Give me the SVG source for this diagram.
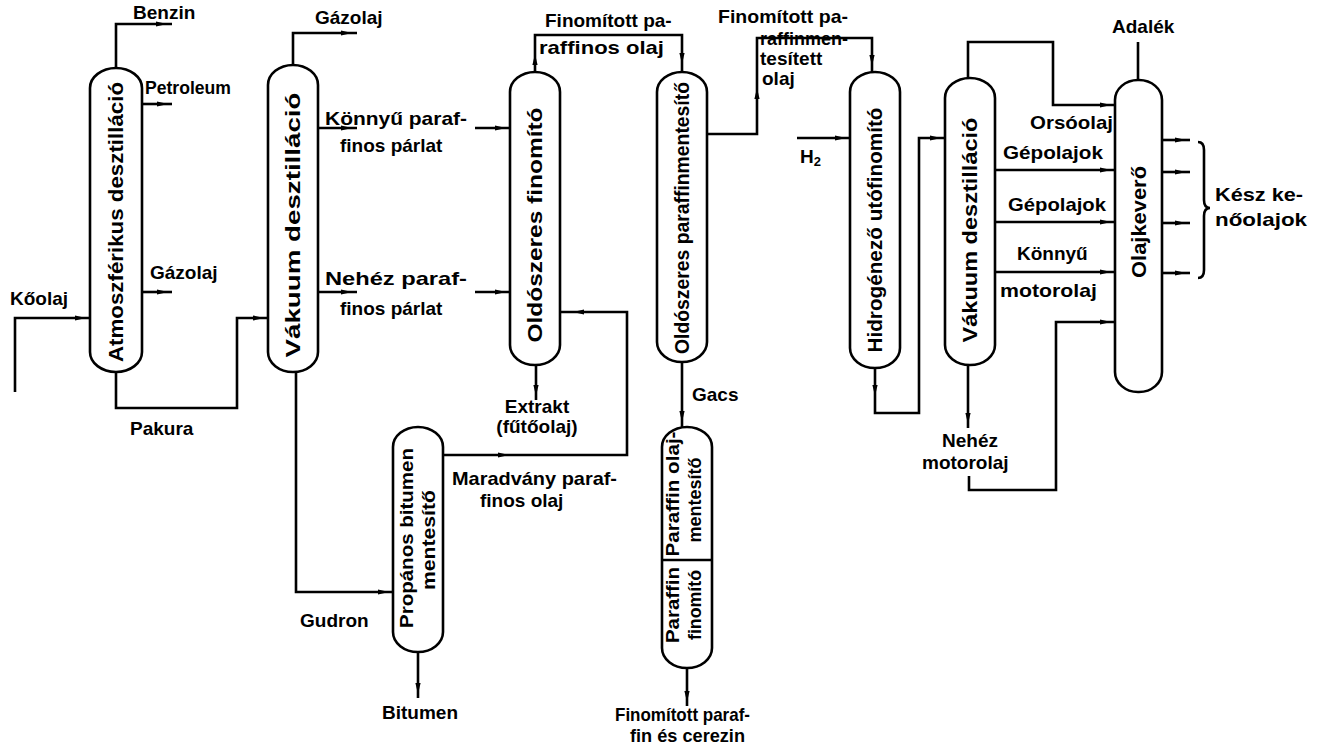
<svg xmlns="http://www.w3.org/2000/svg" xmlns:xlink="http://www.w3.org/1999/xlink" width="1317" height="748" viewBox="0 0 1317 748">
<style>
.col{fill:#fff;stroke:#000;stroke-width:2.6}
.ln{fill:none;stroke:#000;stroke-width:2.6;stroke-linejoin:miter}
text{font-family:"Liberation Sans",Arial,sans-serif;font-weight:bold;font-size:19px;fill:#000}
.v{font-size:20px}
.s{font-size:18px}
.m{text-anchor:middle}
</style>
<defs>
<path id="ah" d="M-7,-2.6 L4,0 L-7,2.6 Z" fill="#000"/>
</defs>
<rect width="1317" height="748" fill="#fff"/>
<g id="connectors">
<path class="ln" d="M15,392 V318 H90"/>
<path class="ln" d="M116,68 V24 H172"/>
<path class="ln" d="M142,104 H172"/>
<path class="ln" d="M142,292 H172"/>
<path class="ln" d="M116,372 V408 H237 V318 H268"/>
<path class="ln" d="M293,65 V33 H357"/>
<path class="ln" d="M318,128 H357"/>
<path class="ln" d="M475,128 H510"/>
<path class="ln" d="M318,292 H357"/>
<path class="ln" d="M475,292 H510"/>
<path class="ln" d="M296,372 V592 H393"/>
<path class="ln" d="M535,72 V35 H682 V72"/>
<path class="ln" d="M443,455 H627 V312 H560"/>
<path class="ln" d="M536,365 V400"/>
<path class="ln" d="M707,134 H757 V38 H872 V72"/>
<path class="ln" d="M682,362 V427"/>
<path class="ln" d="M418,652 V698"/>
<path class="ln" d="M687,668 V706"/>
<path class="ln" d="M797,138 H850"/>
<path class="ln" d="M875,368 V413 H919 V138 H945"/>
<path class="ln" d="M968,78 V42 H1053 V105 H1115"/>
<path class="ln" d="M995,170 H1115"/>
<path class="ln" d="M995,222 H1115"/>
<path class="ln" d="M995,272 H1115"/>
<path class="ln" d="M968,365 V428"/>
<path class="ln" d="M969,476 V490 H1056 V322 H1115"/>
<path class="ln" d="M1138,80 V42"/>
<path class="ln" d="M1162,140 H1190"/>
<path class="ln" d="M1162,172 H1190"/>
<path class="ln" d="M1162,223 H1190"/>
<path class="ln" d="M1162,273 H1190"/>
<path class="ln" d="M1198,142 Q1204,142 1204,150 V200 Q1204,208 1210,208 Q1204,208 1204,216 V270 Q1204,278 1198,278" stroke-width="2"/>
<use xlink:href="#ah" transform="translate(82,318)"/>
<use xlink:href="#ah" transform="translate(163,24)"/>
<use xlink:href="#ah" transform="translate(164,104)"/>
<use xlink:href="#ah" transform="translate(164,292)"/>
<use xlink:href="#ah" transform="translate(260,318)"/>
<use xlink:href="#ah" transform="translate(348,33)"/>
<use xlink:href="#ah" transform="translate(348,128)"/>
<use xlink:href="#ah" transform="translate(502,128)"/>
<use xlink:href="#ah" transform="translate(348,292)"/>
<use xlink:href="#ah" transform="translate(502,292)"/>
<use xlink:href="#ah" transform="translate(385,592)"/>
<use xlink:href="#ah" transform="translate(535,58) rotate(-90)"/>
<use xlink:href="#ah" transform="translate(682,60) rotate(90)"/>
<use xlink:href="#ah" transform="translate(505,455)"/>
<use xlink:href="#ah" transform="translate(577,312) rotate(180)"/>
<use xlink:href="#ah" transform="translate(536,392) rotate(90)"/>
<use xlink:href="#ah" transform="translate(757,92) rotate(-90)"/>
<use xlink:href="#ah" transform="translate(872,62) rotate(90)"/>
<use xlink:href="#ah" transform="translate(682,418) rotate(90)"/>
<use xlink:href="#ah" transform="translate(418,690) rotate(90)"/>
<use xlink:href="#ah" transform="translate(687,698) rotate(90)"/>
<use xlink:href="#ah" transform="translate(842,138)"/>
<use xlink:href="#ah" transform="translate(875,392) rotate(90)"/>
<use xlink:href="#ah" transform="translate(937,138)"/>
<use xlink:href="#ah" transform="translate(1107,105)"/>
<use xlink:href="#ah" transform="translate(1107,170)"/>
<use xlink:href="#ah" transform="translate(1107,222)"/>
<use xlink:href="#ah" transform="translate(1107,272)"/>
<use xlink:href="#ah" transform="translate(968,420) rotate(90)"/>
<use xlink:href="#ah" transform="translate(1107,322)"/>
<use xlink:href="#ah" transform="translate(1182,140)"/>
<use xlink:href="#ah" transform="translate(1182,172)"/>
<use xlink:href="#ah" transform="translate(1182,223)"/>
<use xlink:href="#ah" transform="translate(1182,273)"/>
</g>
<g id="atm">
<rect class="col" x="90" y="68" width="52" height="304" rx="26" ry="20"/>
<text class="v m" transform="translate(123,222) rotate(-90)" textLength="280" lengthAdjust="spacingAndGlyphs">Atmoszférikus desztilláció</text>
</g>
<g id="vak1">
<rect class="col" x="268" y="65" width="50" height="307" rx="25" ry="20"/>
<text class="v m" transform="translate(300,225) rotate(-90)" textLength="265" lengthAdjust="spacingAndGlyphs">Vákuum desztilláció</text>
</g>
<g id="oldfin">
<rect class="col" x="510" y="72" width="50" height="293" rx="25" ry="20"/>
<text class="v m" transform="translate(542,225) rotate(-90)" textLength="235" lengthAdjust="spacingAndGlyphs">Oldószeres finomító</text>
</g>
<g id="oldpar">
<rect class="col" x="657" y="72" width="50" height="290" rx="25" ry="20"/>
<text class="v m" transform="translate(689,218) rotate(-90)" textLength="272" lengthAdjust="spacingAndGlyphs">Oldószeres paraffinmentesítő</text>
</g>
<g id="propan">
<rect class="col" x="393" y="427" width="50" height="225" rx="25" ry="20"/>
<text class="s m" transform="translate(413,538) rotate(-90)" textLength="180" lengthAdjust="spacingAndGlyphs">Propános bitumen</text>
<text class="s m" transform="translate(435,540) rotate(-90)" textLength="100" lengthAdjust="spacingAndGlyphs">mentesítő</text>
</g>
<g id="parolaj">
<rect class="col" x="662" y="427" width="50" height="241" rx="25" ry="20"/>
<path class="ln" d="M662,560 H712"/>
<text class="s m" transform="translate(679,494) rotate(-90)" textLength="125" lengthAdjust="spacingAndGlyphs">Paraffin olaj-</text>
<text class="s m" transform="translate(701,500) rotate(-90)" textLength="85" lengthAdjust="spacingAndGlyphs">mentesítő</text>
<text class="s m" transform="translate(679,605) rotate(-90)" textLength="76" lengthAdjust="spacingAndGlyphs">Paraffin</text>
<text class="s m" transform="translate(701,605) rotate(-90)" textLength="70" lengthAdjust="spacingAndGlyphs">finomító</text>
</g>
<g id="hidro">
<rect class="col" x="850" y="72" width="50" height="296" rx="25" ry="20"/>
<text class="v m" transform="translate(882,230) rotate(-90)" textLength="245" lengthAdjust="spacingAndGlyphs">Hidrogénező utófinomító</text>
</g>
<g id="vak2">
<rect class="col" x="945" y="78" width="50" height="287" rx="25" ry="20"/>
<text class="v m" transform="translate(977,230) rotate(-90)" textLength="225" lengthAdjust="spacingAndGlyphs">Vákuum desztilláció</text>
</g>
<g id="keve">
<rect class="col" x="1115" y="80" width="47" height="312" rx="23" ry="20"/>
<text class="v m" transform="translate(1146,222) rotate(-90)" textLength="112" lengthAdjust="spacingAndGlyphs">Olajkeverő</text>
</g>
<g id="labels">
<text x="10" y="305">Kőolaj</text>
<text x="133" y="19">Benzin</text>
<text x="145" y="94" textLength="86" lengthAdjust="spacingAndGlyphs">Petroleum</text>
<text x="150" y="279">Gázolaj</text>
<text x="130" y="435">Pakura</text>
<text x="315" y="24">Gázolaj</text>
<text x="325" y="125" textLength="142" lengthAdjust="spacingAndGlyphs">Könnyű paraf-</text>
<text x="340" y="152">finos párlat</text>
<text x="325" y="285" textLength="142" lengthAdjust="spacingAndGlyphs">Nehéz paraf-</text>
<text x="340" y="315">finos párlat</text>
<text x="300" y="627">Gudron</text>
<text x="382" y="719">Bitumen</text>
<text x="452" y="485" textLength="165" lengthAdjust="spacingAndGlyphs">Maradvány paraf-</text>
<text x="480" y="507">finos olaj</text>
<text class="m" x="537" y="413">Extrakt</text>
<text class="m" x="537" y="433">(fűtőolaj)</text>
<text x="545" y="27">Finomított pa-</text>
<text x="539" y="54" textLength="125" lengthAdjust="spacingAndGlyphs">raffinos olaj</text>
<text x="692" y="401">Gacs</text>
<text x="615" y="721" textLength="135" lengthAdjust="spacingAndGlyphs">Finomított paraf-</text>
<text x="630" y="742" textLength="115" lengthAdjust="spacingAndGlyphs">fin és cerezin</text>
<text x="718" y="23" textLength="130" lengthAdjust="spacingAndGlyphs">Finomított pa-</text>
<text x="760" y="45" textLength="88" lengthAdjust="spacingAndGlyphs">raffinmen-</text>
<text x="760" y="65">tesített</text>
<text x="762" y="85">olaj</text>
<text x="800" y="163">H<tspan font-size="13" dy="3">2</tspan></text>
<text x="1030" y="129" textLength="83" lengthAdjust="spacingAndGlyphs">Orsóolaj</text>
<text x="1003" y="159" textLength="100" lengthAdjust="spacingAndGlyphs">Gépolajok</text>
<text x="1008" y="211" textLength="98" lengthAdjust="spacingAndGlyphs">Gépolajok</text>
<text x="1017" y="260">Könnyű</text>
<text x="1000" y="297" textLength="97" lengthAdjust="spacingAndGlyphs">motorolaj</text>
<text x="942" y="447">Nehéz</text>
<text x="922" y="469">motorolaj</text>
<text x="1112" y="33">Adalék</text>
<text x="1215" y="201" textLength="88" lengthAdjust="spacingAndGlyphs">Kész ke-</text>
<text x="1215" y="226" textLength="92" lengthAdjust="spacingAndGlyphs">nőolajok</text>
</g>
</svg>
